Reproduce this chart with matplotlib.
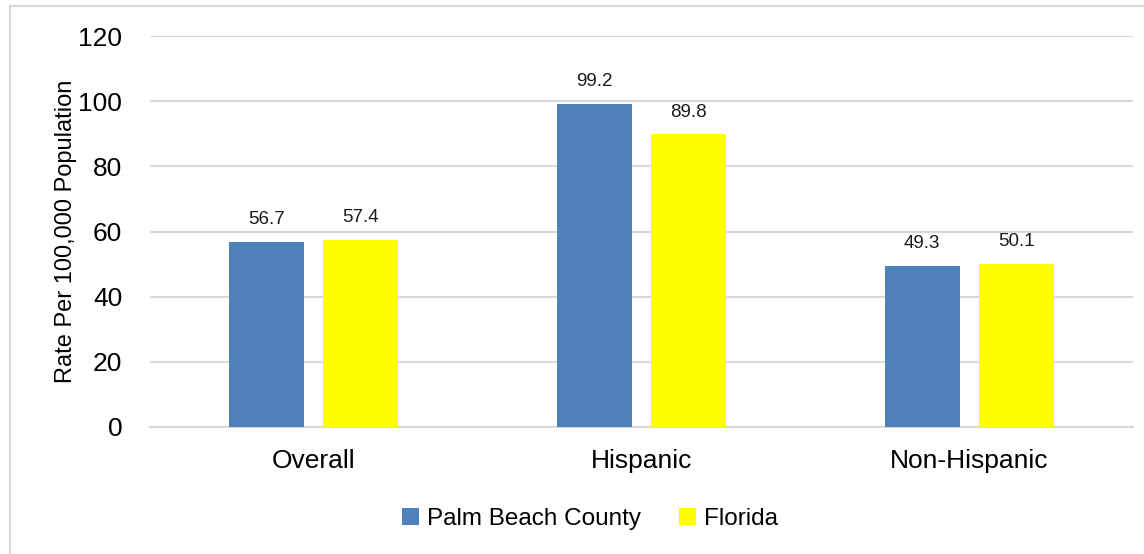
import matplotlib.pyplot as plt
import matplotlib.lines as mlines
import numpy as np

categories = ["Overall", "Hispanic", "Non-Hispanic"]
palm_beach = [56.7, 99.2, 49.3]
florida = [57.4, 89.8, 50.1]
series_names = ["Palm Beach County", "Florida"]
y_ticks = [0, 20, 40, 60, 80, 100, 120]

BLUE = "#4f81bd"
YELLOW = "#ffff00"
GRID = "#d9d9d9"

plt.rcParams['font.family'] = ["Liberation Sans", "DejaVu Sans"]

W, H = 1144, 554
fig = plt.figure(figsize=(W/100, H/100), dpi=100)

# light frame around the chart area (left and top edges visible)
fig.add_artist(mlines.Line2D([10/W, 10/W], [0, 1-6/H], color=GRID, lw=1.5))
fig.add_artist(mlines.Line2D([10/W, 1], [1-6/H, 1-6/H], color=GRID, lw=1.5))

ax = fig.add_axes([150/W, 1-427/H, (1133-150)/W, (427-36)/H])

x = np.arange(len(categories))
bw = 0.229
off = 0.143
b1 = ax.bar(x - off, palm_beach, bw, color=BLUE, label=series_names[0], zorder=3)
b2 = ax.bar(x + off, florida, bw, color=YELLOW, label=series_names[1], zorder=3)

for bars, vals in ((b1, palm_beach), (b2, florida)):
	for r, v in zip(bars, vals):
		ax.annotate("{:.1f}".format(v), (r.get_x() + r.get_width()/2, v),
			xytext=(0, 10), textcoords="offset points", ha="center", va="bottom",
			fontsize=13.5, color="#1a1a1a")

ax.set_xlim(-0.5, 2.5)
ax.set_ylim(0, 120)
ax.set_yticks(y_ticks)
ax.set_xticks(x)
ax.set_xticklabels(categories, fontsize=19)
ax.set_yticklabels([str(t) for t in y_ticks], fontsize=19)
ax.tick_params(axis='y', length=0, pad=20)
ax.tick_params(axis='x', length=0, pad=16)
ax.yaxis.grid(True, color=GRID, lw=1.5, zorder=0)
ax.set_axisbelow(True)
for s in ("top", "right", "left"):
	ax.spines[s].set_visible(False)
ax.spines["bottom"].set_color(GRID)
ax.spines["bottom"].set_linewidth(1.5)

ax.set_ylabel("Rate Per 100,000 Population", fontsize=17)
ax.yaxis.set_label_coords((77-150)/983, 0.5)

fig.legend(loc="center", bbox_to_anchor=(590/W, 1-519/H), ncol=2, frameon=False,
	fontsize=17.5, handlelength=0.7, handleheight=0.7, handletextpad=0.3,
	columnspacing=1.6)

fig.savefig("out.png", dpi=100)
